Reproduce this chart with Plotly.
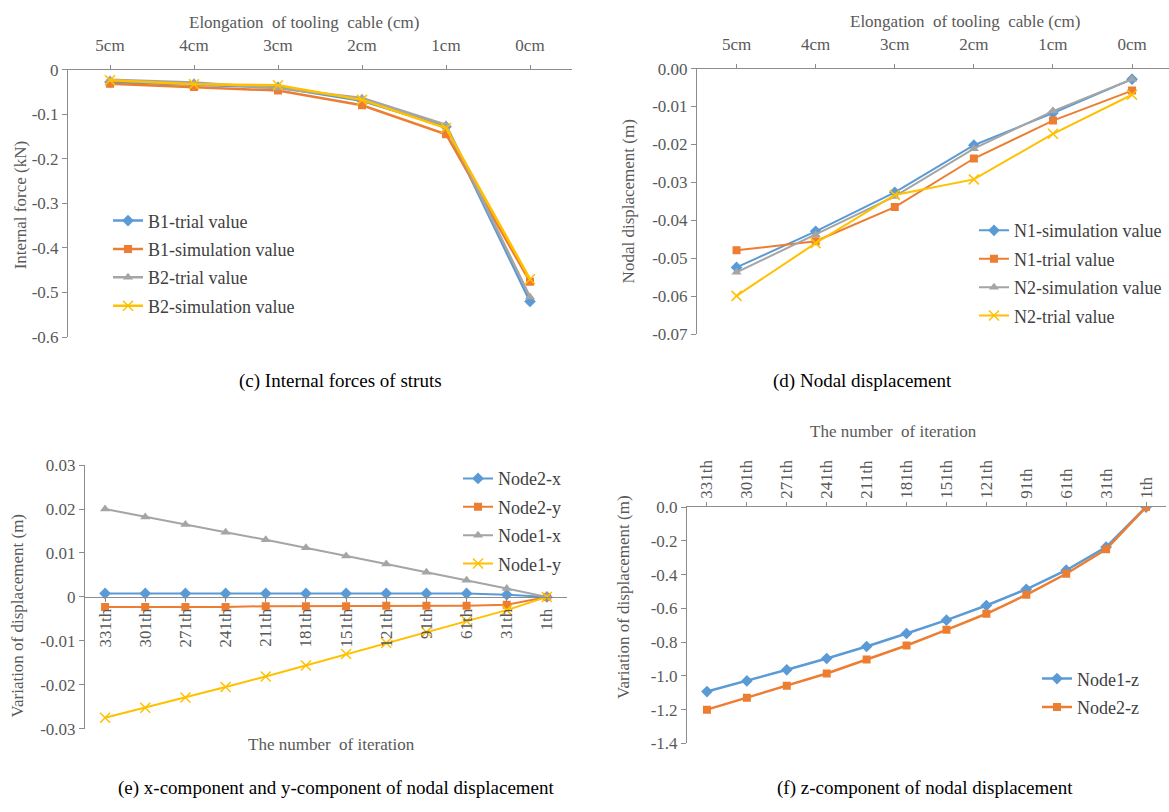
import plotly.graph_objects as go

# ---------------- data ----------------
elong_cats = ["5cm", "4cm", "3cm", "2cm", "1cm", "0cm"]

# (c) internal forces of struts (kN)
b1_trial = [-0.028, -0.034, -0.040, -0.070, -0.128, -0.520]
b1_sim = [-0.032, -0.039, -0.047, -0.080, -0.145, -0.476]
b2_trial = [-0.023, -0.029, -0.042, -0.064, -0.124, -0.510]
b2_sim = [-0.024, -0.033, -0.035, -0.068, -0.131, -0.470]
c_yticks = [0, -0.1, -0.2, -0.3, -0.4, -0.5, -0.6]
c_ytext = ["0", "-0.1", "-0.2", "-0.3", "-0.4", "-0.5", "-0.6"]

# (d) nodal displacement (m)
n1_sim = [-0.0524, -0.0429, -0.0326, -0.0202, -0.0117, -0.0028]
n1_trial = [-0.0479, -0.0455, -0.0365, -0.0237, -0.0137, -0.0058]
n2_sim = [-0.0537, -0.0438, -0.0337, -0.0211, -0.0112, -0.0028]
n2_trial = [-0.0599, -0.0460, -0.0333, -0.0292, -0.0172, -0.0069]
d_yticks = [0, -0.01, -0.02, -0.03, -0.04, -0.05, -0.06, -0.07]
d_ytext = ["0.00", "-0.01", "-0.02", "-0.03", "-0.04", "-0.05", "-0.06", "-0.07"]

# iterations
iter_cats = ["331th", "301th", "271th", "241th", "211th", "181th",
             "151th", "121th", "91th", "61th", "31th", "1th"]

# (e) x / y components (m)
node2_x = [0.0008, 0.0008, 0.0008, 0.0008, 0.0008, 0.0008,
           0.0008, 0.0008, 0.0008, 0.0008, 0.0005, 0.0]
node2_y = [-0.0023, -0.0023, -0.0023, -0.0023, -0.0021, -0.0021,
           -0.0021, -0.0020, -0.0020, -0.0020, -0.0018, 0.0]
node1_x = [0.0200, 0.0182, 0.0165, 0.0147, 0.0130, 0.0112,
           0.0093, 0.0075, 0.0056, 0.0038, 0.0019, 0.0]
node1_y = [-0.0275, -0.0252, -0.0229, -0.0205, -0.0181, -0.0156,
           -0.0130, -0.0105, -0.0080, -0.0055, -0.0030, 0.0]
e_yticks = [0.03, 0.02, 0.01, 0, -0.01, -0.02, -0.03]
e_ytext = ["0.03", "0.02", "0.01", "0", "-0.01", "-0.02", "-0.03"]

# (f) z component (m)
node1_z = [-1.093, -1.030, -0.964, -0.897, -0.826, -0.749,
           -0.670, -0.583, -0.487, -0.374, -0.237, 0.0]
node2_z = [-1.200, -1.130, -1.059, -0.986, -0.903, -0.820,
           -0.727, -0.632, -0.520, -0.395, -0.250, 0.0]
f_yticks = [0, -0.2, -0.4, -0.6, -0.8, -1.0, -1.2, -1.4]
f_ytext = ["0.0", "-0.2", "-0.4", "-0.6", "-0.8", "-1.0", "-1.2", "-1.4"]

# ---------------- styling ----------------
W, H = 1169, 812
FONT = "Liberation Serif"
TXT = "#595959"
AXC = "#8C8C8C"
BLUE, ORANGE, GRAY, GOLD = "#5B9BD5", "#ED7D31", "#A5A5A5", "#FFC000"


def xdom(a, b):
    return [a / W, min(b / W, 1.0)]


def ydom(top, bottom):
    return [1 - bottom / H, 1 - top / H]


def marker(sym, color):
    if sym == "x":
        return dict(symbol="x-thin", size=10, color=color,
                    line=dict(color=color, width=1.5))
    size = {"diamond": 9, "square": 8, "triangle-up": 9}[sym]
    return dict(symbol=sym, size=size, color=color)


fig = go.Figure()


def add(x, y, name, color, sym, xa, ya, legend, width=2.5):
    fig.add_trace(go.Scatter(
        x=x, y=y, name=name, mode="lines+markers",
        line=dict(color=color, width=width),
        marker=marker(sym, color),
        xaxis=xa, yaxis=ya, legend=legend, legendgroup=name + xa,
    ))


# (c)
add(elong_cats, b1_trial, "B1-trial value", BLUE, "diamond", "x", "y", "legend")
add(elong_cats, b1_sim, "B1-simulation value", ORANGE, "square", "x", "y", "legend")
add(elong_cats, b2_trial, "B2-trial value", GRAY, "triangle-up", "x", "y", "legend")
add(elong_cats, b2_sim, "B2-simulation value", GOLD, "x", "x", "y", "legend")
# (d)
add(elong_cats, n1_sim, "N1-simulation value", BLUE, "diamond", "x2", "y2", "legend2", 2)
add(elong_cats, n1_trial, "N1-trial value", ORANGE, "square", "x2", "y2", "legend2", 2)
add(elong_cats, n2_sim, "N2-simulation value", GRAY, "triangle-up", "x2", "y2", "legend2", 2)
add(elong_cats, n2_trial, "N2-trial value", GOLD, "x", "x2", "y2", "legend2", 2)
# (e)
add(iter_cats, node2_x, "Node2-x", BLUE, "diamond", "x3", "y3", "legend3", 2)
add(iter_cats, node2_y, "Node2-y", ORANGE, "square", "x3", "y3", "legend3", 2)
add(iter_cats, node1_x, "Node1-x", GRAY, "triangle-up", "x3", "y3", "legend3", 2)
add(iter_cats, node1_y, "Node1-y", GOLD, "x", "x3", "y3", "legend3", 2)
# (f)
add(iter_cats, node1_z, "Node1-z", BLUE, "diamond", "x4", "y4", "legend4")
add(iter_cats, node2_z, "Node2-z", ORANGE, "square", "x4", "y4", "legend4")

tickfont = dict(family=FONT, size=17, color=TXT)
common_x = dict(type="category", showline=True, linecolor=AXC, linewidth=1,
                ticks="outside", ticklen=4, tickcolor=AXC, showgrid=False,
                zeroline=False, tickfont=tickfont, fixedrange=True)
common_y = dict(showline=True, linecolor=AXC, linewidth=1, ticks="outside",
                ticklen=5, tickcolor=AXC, showgrid=False, zeroline=False,
                tickfont=tickfont, tickmode="array", fixedrange=True)

# (d) category spacing in pixels, axis runs off the right edge
d_left, d_step = 697, 79.1
d_range_end = -0.5 + (W - d_left) / d_step

# (e) horizontal axis sits at y = 0
e_dom = ydom(467, 737)
e_pos = e_dom[0] + (0 - (-0.03)) / 0.06 * (e_dom[1] - e_dom[0])

fig.update_layout(
    width=W, height=H, margin=dict(l=0, r=0, t=0, b=0),
    paper_bgcolor="white", plot_bgcolor="white",
    font=dict(family=FONT, color=TXT),
    xaxis=dict(common_x, domain=xdom(68, 572), anchor="y", side="top",
               range=[-0.5, 5.5], ticklabelstandoff=7),
    yaxis=dict(common_y, domain=ydom(62, 336), anchor="x", range=[-0.6, 0],
               tickvals=c_yticks, ticktext=c_ytext),
    xaxis2=dict(common_x, domain=xdom(d_left, W), anchor="y2", side="top",
                range=[-0.5, d_range_end], ticklabelstandoff=7),
    yaxis2=dict(common_y, domain=ydom(61, 333), anchor="x2", range=[-0.07, 0],
                tickvals=d_yticks, ticktext=d_ytext),
    xaxis3=dict(common_x, domain=xdom(85, 567), anchor="free", position=e_pos,
                range=[-0.5, 11.5], tickangle=-90),
    yaxis3=dict(common_y, domain=e_dom, anchor="x3", range=[-0.03, 0.03],
                tickvals=e_yticks, ticktext=e_ytext),
    xaxis4=dict(common_x, domain=xdom(687, 1166), anchor="y4", side="top",
                range=[-0.5, 11.5], tickangle=-90),
    yaxis4=dict(common_y, domain=ydom(510, 752), anchor="x4", range=[-1.4, 0],
                tickvals=f_yticks, ticktext=f_ytext),
    showlegend=True,
)

legfont = dict(family=FONT, size=18, color="#404040")
legbase = dict(font=legfont, bgcolor="rgba(0,0,0,0)", borderwidth=0,
               xanchor="left", yanchor="top", tracegroupgap=2,
               itemclick=False, itemdoubleclick=False)
fig.update_layout(
    legend=dict(legbase, x=108 / W, y=1 - 198 / H),
    legend2=dict(legbase, x=974 / W, y=1 - 208 / H),
    legend3=dict(legbase, x=458 / W, y=1 - 462 / H),
    legend4=dict(legbase, x=1037 / W, y=1 - 667 / H),
)

# axis titles and captions
def label(text, x, y, angle=0, color=TXT, size=17):
    fig.add_annotation(text=text, x=x / W, y=1 - y / H, xref="paper", yref="paper",
                       showarrow=False, textangle=angle,
                       font=dict(family=FONT, size=size, color=color),
                       xanchor="center", yanchor="middle")

label("Elongation  of tooling  cable (cm)", 304, 14)
label("Internal force (kN)", 20, 201, -90)
label("(c) Internal forces of struts", 340, 381, color="black", size=19)

label("Elongation  of tooling  cable (cm)", 965, 13)
label("Nodal displacement (m)", 628, 197, -90)
label("(d) Nodal displacement", 862, 381, color="black", size=19)

label("The number  of iteration", 331, 753)
label("Variation of displacement (m)", 17, 622, -90)
label("(e) x-component and y-component of nodal displacement", 336, 798,
      color="black", size=19)

label("The number  of iteration", 893, 433)
label("Variation of displacement (m)", 624, 603, -90)
label("(f) z-component of nodal displacement", 925, 798, color="black", size=19)

fig.write_html("out.html")
